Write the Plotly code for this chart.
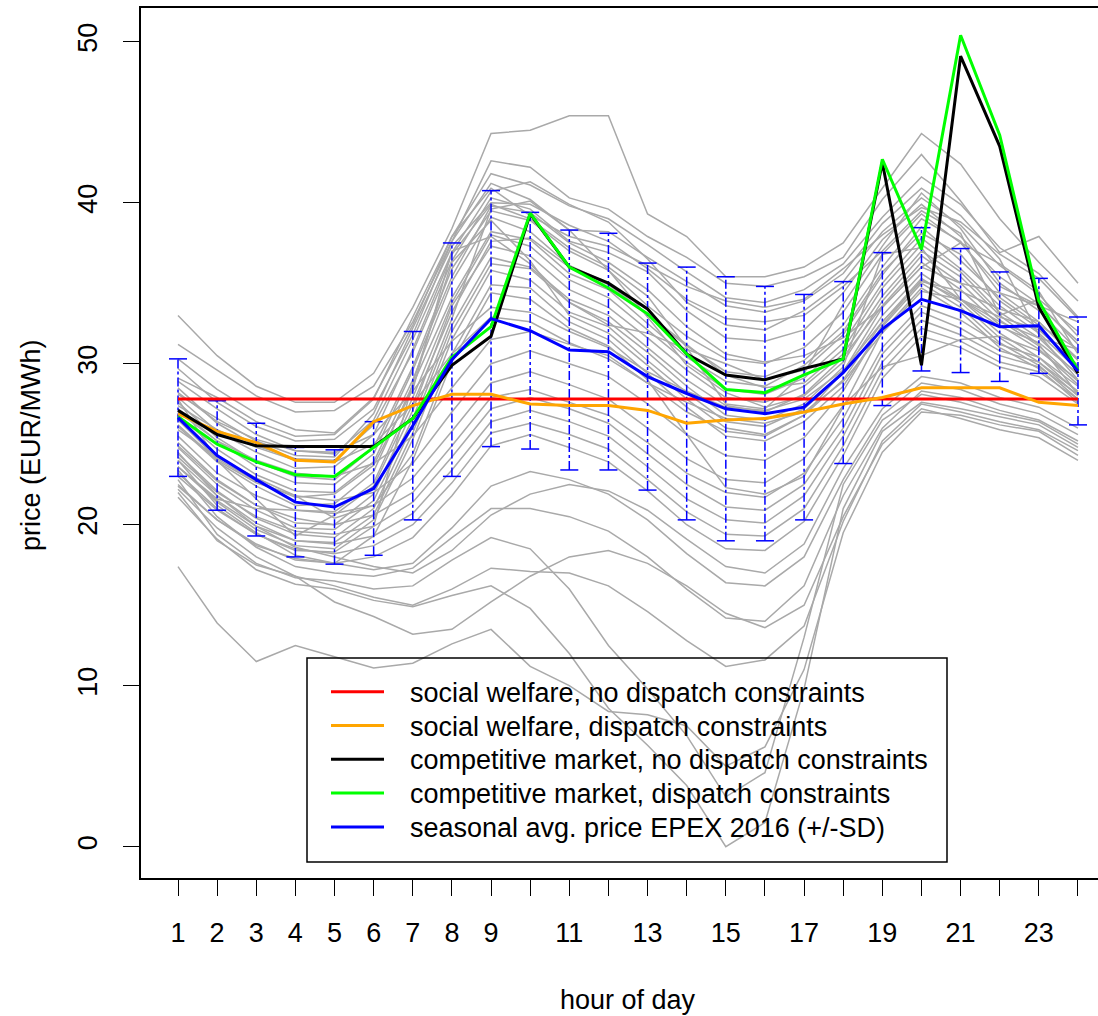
import plotly.graph_objects as go

hours = list(range(1, 25))
xtick_labels = ["1", "2", "3", "4", "5", "6", "7", "8", "9", "", "11", "", "13", "", "15", "",
                "17", "", "19", "", "21", "", "23", ""]

# model results (EUR/MWh)
sw_no_dispatch = [27.8] * 24
sw_dispatch = [26.9, 25.8, 25.1, 24.0, 23.9, 26.4, 27.4, 28.1, 28.1, 27.5, 27.4, 27.4,
               27.1, 26.3, 26.5, 26.6, 27.0, 27.5, 27.9, 28.5, 28.5, 28.5, 27.6, 27.4]
cm_no_dispatch = [27.1, 25.6, 24.9, 24.85, 24.85, 24.85, 26.6, 29.9, 31.7, 39.3, 36.0, 35.0,
                  33.4, 30.6, 29.3, 29.0, 29.7, 30.3, 42.5, 29.9, 49.1, 43.5, 33.5, 29.4]
cm_dispatch = [26.7, 25.0, 23.9, 23.1, 23.0, 24.8, 26.6, 30.4, 32.3, 39.35, 36.0, 34.7,
               33.1, 30.6, 28.4, 28.2, 29.3, 30.3, 42.7, 37.1, 50.4, 44.2, 33.9, 29.6]
epex_mean = [26.65, 24.3, 22.8, 21.4, 21.1, 22.25, 26.15, 30.25, 32.8, 32.05, 30.85, 30.75,
             29.2, 28.15, 27.2, 26.9, 27.3, 29.45, 32.15, 34.0, 33.3, 32.3, 32.35, 29.55]
epex_sd = [3.65, 3.4, 3.5, 3.4, 3.55, 4.15, 5.85, 7.25, 7.95, 7.35, 7.45, 7.35,
           7.05, 7.85, 8.2, 7.9, 7.0, 5.65, 4.75, 4.45, 3.85, 3.4, 2.95, 3.35]

# observed daily price profiles (grey lines)
G01 = [33.0, 30.5, 28.6, 27.6, 27.6, 29.4, 33.5, 38.4, 44.3, 44.5, 45.4, 45.4, 39.3, 37.9, 35.4, 35.4, 36.0, 37.5, 40.9, 44.3, 42.4, 39.0, 36.3, 33.9]
G02 = [31.2, 29.6, 28.0, 27.0, 27.1, 28.6, 32.6, 37.6, 42.6, 42.2, 40.3, 39.6, 37.9, 36.6, 35.0, 34.8, 35.4, 36.6, 40.2, 43.0, 40.1, 36.9, 37.9, 35.0]
W01 = [30.3, 28.4, 26.9, 25.9, 25.7, 27.9, 32.4, 37.9, 41.8, 41.1, 39.8, 39.0, 37.4, 35.7, 34.1, 33.8, 34.6, 36.2, 39.1, 41.6, 39.9, 37.2, 35.6, 32.9]
W02 = [29.7, 27.6, 26.1, 25.2, 25.3, 27.2, 31.8, 37.6, 41.2, 40.2, 38.3, 38.2, 36.6, 35.1, 33.6, 33.2, 33.9, 35.6, 38.7, 40.9, 39.2, 36.5, 31.8, 29.0]
W03 = [28.9, 27.2, 25.6, 24.6, 24.4, 26.5, 31.5, 36.9, 40.7, 41.3, 39.9, 38.8, 36.5, 33.8, 32.4, 32.1, 33.3, 35.1, 38.2, 40.3, 38.6, 36.1, 34.3, 31.7]
W04 = [28.5, 26.3, 24.9, 24.1, 24.0, 26.2, 30.7, 36.4, 40.3, 39.6, 37.6, 36.9, 35.7, 33.3, 31.6, 31.4, 32.1, 34.4, 37.7, 39.9, 37.9, 35.4, 33.7, 31.2]
W05 = [27.9, 25.8, 24.5, 23.5, 23.6, 25.6, 30.9, 36.8, 39.9, 39.0, 37.2, 36.0, 34.2, 31.0, 27.5, 27.2, 29.4, 33.7, 37.3, 40.6, 38.4, 35.0, 33.3, 30.8]
W06 = [27.6, 25.4, 23.9, 23.0, 22.8, 24.8, 29.8, 35.9, 39.5, 38.9, 37.0, 35.8, 33.6, 31.7, 30.3, 30.0, 31.0, 33.2, 36.8, 39.3, 37.5, 34.8, 33.6, 31.4]
W07 = [27.2, 25.2, 23.6, 22.6, 22.5, 24.4, 29.6, 35.4, 39.8, 39.4, 37.5, 36.3, 34.6, 32.3, 30.6, 30.1, 30.5, 31.6, 33.5, 36.0, 37.5, 36.2, 34.5, 30.6]
W08 = [26.8, 24.7, 23.1, 22.1, 22.0, 23.9, 29.0, 35.1, 39.1, 38.2, 36.1, 35.0, 33.0, 31.1, 29.5, 29.2, 30.2, 32.4, 36.0, 39.0, 37.6, 34.4, 32.6, 30.2]
W09 = [26.5, 24.1, 22.7, 21.7, 21.9, 23.7, 28.4, 37.0, 37.9, 36.2, 33.8, 32.4, 31.9, 30.9, 30.0, 29.0, 29.6, 31.8, 35.5, 38.5, 36.4, 34.1, 32.4, 30.9]
W10 = [26.1, 23.9, 22.4, 21.2, 21.3, 23.3, 28.7, 34.1, 38.2, 37.7, 35.6, 34.6, 32.5, 30.4, 28.9, 28.6, 29.9, 32.0, 35.7, 38.1, 36.8, 33.9, 32.2, 29.9]
W11 = [23.6, 21.6, 21.0, 20.9, 20.8, 22.6, 27.9, 33.8, 38.0, 37.3, 35.2, 34.1, 32.1, 30.1, 28.4, 28.1, 29.1, 31.3, 35.0, 37.8, 35.9, 33.6, 31.9, 29.6]
W12 = [27.8, 24.0, 21.6, 19.3, 20.6, 22.4, 27.5, 33.2, 37.6, 37.8, 36.0, 34.9, 33.1, 31.2, 29.3, 28.5, 28.8, 30.9, 34.7, 37.4, 35.7, 33.2, 31.6, 29.3]
W13 = [25.1, 22.8, 21.2, 20.1, 20.0, 21.9, 27.1, 33.6, 37.3, 36.7, 34.6, 33.5, 31.6, 29.6, 27.9, 27.6, 28.6, 30.6, 34.2, 37.0, 35.4, 33.0, 34.0, 32.0]
W14 = [24.8, 22.5, 20.9, 19.8, 19.7, 21.5, 26.6, 32.8, 39.6, 40.1, 38.3, 35.8, 32.9, 29.9, 28.2, 27.3, 28.0, 30.1, 33.9, 36.7, 35.0, 32.7, 31.1, 28.9]
W15 = [24.4, 22.1, 20.4, 19.4, 19.2, 21.0, 26.2, 32.4, 36.6, 36.0, 34.0, 33.0, 31.0, 29.0, 27.4, 27.0, 28.1, 30.4, 33.6, 36.3, 34.6, 32.4, 30.9, 28.7]
W16 = [24.0, 21.8, 20.1, 19.0, 18.9, 20.6, 25.7, 32.0, 36.2, 35.9, 33.8, 32.6, 30.7, 28.6, 26.8, 26.5, 27.5, 29.8, 36.8, 37.2, 34.0, 32.6, 31.6, 30.9]
W17 = [23.6, 21.4, 19.7, 18.7, 18.5, 20.3, 25.3, 31.5, 35.8, 35.2, 33.2, 32.3, 30.2, 28.2, 26.4, 26.1, 27.2, 29.4, 33.0, 35.6, 34.0, 31.9, 30.4, 28.2]
W18 = [23.2, 21.0, 19.4, 18.4, 18.3, 19.9, 28.8, 36.3, 38.9, 36.4, 33.0, 31.9, 29.9, 27.8, 26.0, 25.6, 26.8, 29.0, 32.6, 35.3, 33.8, 31.6, 30.1, 28.0]
W19 = [25.9, 24.2, 22.9, 21.8, 20.4, 21.2, 24.4, 30.6, 34.9, 34.7, 32.6, 31.5, 29.4, 27.3, 25.5, 25.2, 26.4, 28.6, 32.3, 35.0, 33.5, 31.3, 29.9, 27.8]
W20 = [22.4, 20.3, 18.8, 17.8, 17.6, 19.3, 24.0, 30.1, 34.4, 34.0, 32.2, 31.1, 29.0, 25.6, 22.3, 21.9, 23.0, 27.3, 32.0, 34.7, 33.2, 31.0, 29.7, 27.6]
W21 = [29.1, 27.9, 26.4, 25.5, 25.6, 27.8, 32.9, 37.9, 40.9, 39.2, 37.9, 37.3, 36.1, 34.8, 33.9, 33.5, 34.0, 35.9, 38.0, 39.7, 38.8, 36.8, 35.3, 32.8]
W22 = [28.1, 26.6, 25.2, 24.3, 24.2, 26.9, 32.2, 37.3, 40.0, 39.9, 38.6, 37.6, 35.9, 34.0, 32.8, 32.6, 33.0, 34.8, 37.0, 39.5, 38.1, 33.0, 31.2, 28.1]
S01 = [28.2, 26.4, 25.3, 24.6, 24.5, 25.6, 28.3, 31.4, 33.5, 33.2, 32.0, 31.0, 29.5, 28.3, 27.3, 27.1, 27.8, 29.6, 32.6, 35.1, 34.5, 33.4, 32.6, 30.3]
S02 = [27.4, 25.9, 24.8, 24.0, 23.9, 25.0, 27.5, 30.6, 32.9, 32.6, 31.3, 30.3, 28.8, 27.6, 26.6, 26.3, 27.0, 28.9, 31.9, 34.5, 34.0, 32.9, 32.1, 29.9]
M01 = [27.0, 25.2, 24.0, 23.2, 23.0, 23.8, 25.5, 28.5, 31.5, 32.0, 31.2, 30.5, 28.8, 27.0, 25.8, 25.5, 26.8, 29.5, 33.5, 36.0, 35.0, 34.4, 33.6, 32.6]
M02 = [26.2, 24.0, 22.6, 21.8, 21.5, 22.0, 23.8, 27.0, 30.0, 30.8, 30.0, 29.2, 27.5, 25.6, 24.3, 24.0, 25.4, 28.3, 32.4, 35.2, 34.0, 32.3, 31.3, 29.4]
M03 = [25.5, 23.2, 21.8, 20.9, 20.7, 21.2, 22.9, 25.8, 28.8, 29.5, 28.7, 27.8, 26.0, 24.1, 22.8, 22.6, 24.1, 27.4, 29.8, 30.5, 31.5, 31.7, 30.8, 29.0]
M04 = [24.9, 22.7, 21.2, 20.4, 20.0, 20.6, 22.0, 24.9, 27.9, 28.4, 27.6, 26.8, 25.1, 23.2, 22.0, 21.7, 23.2, 26.6, 31.0, 33.6, 32.7, 31.2, 30.4, 28.6]
M05 = [24.2, 22.0, 20.5, 19.6, 19.4, 19.9, 21.4, 24.2, 27.2, 27.9, 27.2, 26.3, 24.4, 22.5, 21.1, 20.9, 22.5, 26.0, 30.6, 33.2, 32.2, 30.8, 30.1, 28.3]
M06 = [23.6, 21.5, 19.9, 19.0, 18.8, 19.3, 20.7, 23.4, 26.4, 27.1, 26.4, 25.5, 23.6, 21.6, 20.3, 20.1, 21.8, 25.5, 30.1, 32.7, 31.8, 30.5, 29.8, 28.1]
M07 = [23.0, 20.9, 19.4, 18.5, 18.2, 18.7, 20.0, 22.6, 25.7, 26.3, 25.6, 24.7, 22.8, 20.8, 19.4, 19.3, 21.0, 24.9, 29.6, 32.2, 31.4, 30.1, 29.5, 27.8]
M08 = [22.5, 20.3, 18.7, 17.9, 17.6, 18.0, 19.2, 21.8, 24.9, 25.6, 24.8, 23.9, 22.1, 20.0, 18.5, 18.4, 20.2, 24.3, 29.1, 31.7, 31.0, 29.8, 29.2, 27.5]
L01 = [21.7, 19.1, 17.2, 16.3, 16.0, 15.3, 14.9, 15.6, 16.2, 14.8, 12.0, 8.6, 6.3, 3.8, 0.0, 1.5, 9.8, 21.0, 25.8, 27.6, 27.2, 26.7, 26.2, 24.8]
L02 = [22.8, 19.4, 17.6, 16.7, 16.5, 16.0, 16.2, 17.8, 19.2, 18.5, 16.0, 12.5, 9.8, 6.9, 3.1, 4.6, 13.0, 22.5, 26.5, 28.1, 27.6, 26.9, 26.4, 25.0]
L03 = [17.4, 13.9, 11.5, 12.5, 11.8, 11.1, 11.4, 12.6, 13.5, 11.2, 10.0, 8.4, 8.2, 7.5, 5.0, 6.2, 11.0, 19.5, 24.5, 27.0, 26.8, 26.2, 25.8, 24.3]
L04 = [22.2, 19.8, 18.0, 16.8, 16.2, 15.5, 15.0, 16.0, 17.3, 17.1, 17.0, 16.2, 14.6, 12.8, 11.2, 11.6, 13.7, 20.2, 25.2, 27.5, 27.0, 26.4, 25.9, 24.6]
L05 = [23.4, 20.5, 18.6, 17.4, 17.0, 16.8, 17.3, 19.2, 21.0, 21.0, 20.5, 19.6, 18.0, 16.0, 14.2, 14.0, 16.2, 21.8, 26.0, 28.3, 27.9, 27.1, 26.5, 25.2]
L06 = [24.0, 21.2, 19.5, 18.1, 17.6, 17.2, 17.6, 19.8, 22.4, 23.3, 22.8, 21.9, 20.3, 18.2, 16.4, 16.2, 18.0, 22.8, 26.8, 28.8, 28.4, 27.5, 26.9, 25.6]
L07 = [22.0, 19.0, 17.5, 16.8, 15.2, 14.3, 13.2, 13.5, 15.2, 16.8, 18.0, 18.4, 17.6, 16.2, 14.5, 13.6, 15.0, 20.5, 25.0, 27.2, 26.6, 25.9, 25.4, 24.0]
L08 = [24.5, 21.8, 19.9, 18.6, 18.0, 17.4, 17.0, 18.4, 20.6, 21.9, 22.5, 22.1, 20.9, 19.1, 17.4, 17.0, 18.8, 23.5, 27.2, 29.2, 28.8, 27.9, 27.3, 26.0]

grey_profiles = [G01, G02, W01, W02, W03, W04, W05, W06, W07, W08, W09, W10, W11, W12, W13,
                 W14, W15, W16, W17, W18, W19, W20, W21, W22, S01, S02, M01, M02, M03, M04,
                 M05, M06, M07, M08, L01, L02, L03, L04, L05, L06, L07, L08]

legend_labels = ["social welfare, no dispatch constraints",
                 "social welfare, dispatch constraints",
                 "competitive market, no dispatch constraints",
                 "competitive market, dispatch constraints",
                 "seasonal avg. price EPEX 2016 (+/-SD)"]
legend_colors = ["#FF0000", "#FFA500", "#000000", "#00FF00", "#0000FF"]

FONT = "Liberation Sans, Arial, Helvetica, sans-serif"
W, H = 1098, 1016
L_M, T_M, B_M = 141, 8, 138
plot_w, plot_h = W - L_M, H - T_M - B_M

fig = go.Figure()

for prof in grey_profiles:
    fig.add_trace(go.Scatter(x=hours, y=prof, mode="lines",
                             line=dict(color="#A9A9A9", width=1.5),
                             showlegend=False, hoverinfo="skip"))

# SD bars (dash-dot stems + solid caps)
stem_x, stem_y, cap_x, cap_y = [], [], [], []
cap_half = 0.23
for h, m, s in zip(hours, epex_mean, epex_sd):
    stem_x += [h, h, None]
    stem_y += [m - s, m + s, None]
    for v in (m - s, m + s):
        cap_x += [h - cap_half, h + cap_half, None]
        cap_y += [v, v, None]
fig.add_trace(go.Scatter(x=stem_x, y=stem_y, mode="lines",
                         line=dict(color="#0000FF", width=1.5, dash="dashdot"),
                         showlegend=False, hoverinfo="skip"))
fig.add_trace(go.Scatter(x=cap_x, y=cap_y, mode="lines",
                         line=dict(color="#0000FF", width=1.5),
                         showlegend=False, hoverinfo="skip"))

series = [sw_no_dispatch, sw_dispatch, cm_no_dispatch, cm_dispatch, epex_mean]
for name, col, ys in zip(legend_labels, legend_colors, series):
    fig.add_trace(go.Scatter(x=hours, y=ys, mode="lines", name=name,
                             line=dict(color=col, width=3),
                             showlegend=False))

# manual legend (box + samples + labels), in pixel-derived paper coords
def px_x(px):
    return (px - L_M) / plot_w

def px_y(py):
    return (H - B_M - py) / plot_h

shapes = [dict(type="rect", xref="paper", yref="paper",
               x0=px_x(307), x1=px_x(947), y0=px_y(862), y1=px_y(658),
               line=dict(color="black", width=1.5), fillcolor="rgba(0,0,0,0)", layer="above")]
annotations = []
row_y = [691.7, 725.5, 759.3, 793.1, 826.9]
for lab, col, ry in zip(legend_labels, legend_colors, row_y):
    shapes.append(dict(type="line", xref="paper", yref="paper",
                       x0=px_x(331), x1=px_x(384), y0=px_y(ry), y1=px_y(ry),
                       line=dict(color=col, width=3), layer="above"))
    annotations.append(dict(xref="paper", yref="paper", x=px_x(408), y=px_y(ry + 1),
                            text=lab, showarrow=False, xanchor="left", yanchor="middle",
                            font=dict(family=FONT, size=27, color="black")))

# axis titles
annotations.append(dict(xref="paper", yref="paper", x=px_x(628), y=px_y(1000),
                        text="hour of day", showarrow=False, xanchor="center", yanchor="middle",
                        font=dict(family=FONT, size=27, color="black")))
annotations.append(dict(xref="paper", yref="paper", x=px_x(31), y=px_y(445),
                        text="price (EUR/MWh)", showarrow=False, textangle=-90,
                        xanchor="center", yanchor="middle",
                        font=dict(family=FONT, size=27, color="black")))

x_per_px = 1 / 39.13
x0 = 1 - (178 - L_M) * x_per_px
x1 = x0 + plot_w * x_per_px
y_per_px = 1 / 16.1
y_top = (846.7 - T_M) * y_per_px
y_bot = (846.7 - (H - B_M)) * y_per_px

fig.update_layout(
    width=W, height=H,
    margin=dict(l=L_M, r=0, t=T_M, b=B_M, pad=0),
    paper_bgcolor="white", plot_bgcolor="white",
    font=dict(family=FONT, size=27, color="black"),
    showlegend=False,
    shapes=shapes, annotations=annotations,
    xaxis=dict(range=[x0, x1], tickmode="array", tickvals=hours, ticktext=xtick_labels,
               ticks="outside", ticklen=16, tickwidth=1.3, tickcolor="black",
               showline=True, linecolor="black", linewidth=1.5, mirror=True,
               showgrid=False, zeroline=False, tickangle=0, ticklabelstandoff=14,
               tickfont=dict(family=FONT, size=27, color="black")),
    yaxis=dict(range=[y_bot, y_top], tickmode="array", tickvals=[0, 10, 20, 30, 40, 50],
               ticks="outside", ticklen=16, tickwidth=1.3, tickcolor="black",
               showline=True, linecolor="black", linewidth=1.5, mirror=False,
               showgrid=False, zeroline=False, tickangle=-90, ticklabelstandoff=15,
               tickfont=dict(family=FONT, size=27, color="black")),
)

fig.write_html("out.html")
